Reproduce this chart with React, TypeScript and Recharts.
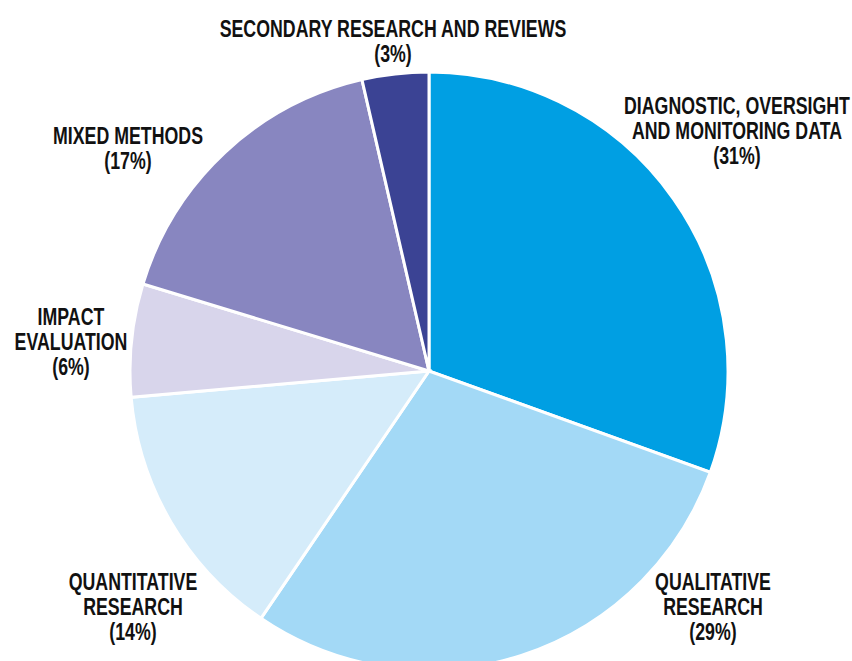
import { PieChart, Pie, Cell } from "recharts";

const categories = [
  "DIAGNOSTIC, OVERSIGHT AND MONITORING DATA",
  "QUALITATIVE RESEARCH",
  "QUANTITATIVE RESEARCH",
  "IMPACT EVALUATION",
  "MIXED METHODS",
  "SECONDARY RESEARCH AND REVIEWS",
];
const shares = [30.5, 29.0, 14.1, 6.1, 16.7, 3.6];
const printedShares = [31, 29, 14, 6, 17, 3];
const colors = ["#009fe3", "#a3d9f6", "#d5ecfa", "#d8d5eb", "#8886c0", "#3b4394"];

// label text lines and where they sit
const labelLines = [
  ["DIAGNOSTIC, OVERSIGHT", "AND MONITORING DATA"],
  ["QUALITATIVE", "RESEARCH"],
  ["QUANTITATIVE", "RESEARCH"],
  ["IMPACT", "EVALUATION"],
  ["MIXED METHODS"],
  ["SECONDARY RESEARCH AND REVIEWS"],
];
const labelPos = [
  { x: 737, y: 114 },
  { x: 713, y: 590 },
  { x: 133, y: 590 },
  { x: 71, y: 325 },
  { x: 128, y: 144 },
  { x: 393, y: 37 },
];

const data = categories.map((name, i) => ({ name, value: shares[i] }));

const FONT = "'Liberation Sans', Arial, sans-serif";
const SQUEEZE = 0.74;

function renderLabel(props: any) {
  const i = props.index;
  const pos = labelPos[i];
  const lines = [...labelLines[i], `(${printedShares[i]}%)`];
  return (
    <g key={i} transform={`translate(${pos.x},0) scale(${SQUEEZE},1) translate(${-pos.x},0)`}>
      <text
        x={pos.x}
        y={pos.y}
        textAnchor="middle"
        fill="#111"
        fontFamily={FONT}
        fontWeight="bold"
        fontSize={24}
      >
        {lines.map((l, k) => (
          <tspan key={k} x={pos.x} dy={k === 0 ? 0 : 25}>
            {l}
          </tspan>
        ))}
      </text>
    </g>
  );
}

export default function App() {
  return (
    <div style={{ position: "absolute", left: 0, top: 0, width: 852, height: 661, background: "#fff" }}>
      <PieChart width={852} height={661} margin={{ top: 0, right: 0, bottom: 0, left: 0 }}>
        <Pie
          data={data}
          dataKey="value"
          nameKey="name"
          cx={429}
          cy={371}
          outerRadius={299}
          startAngle={90}
          endAngle={-270}
          stroke="#fff"
          strokeWidth={3}
          label={renderLabel}
          labelLine={false}
          isAnimationActive={false}
        >
          {data.map((d, i) => (
            <Cell key={d.name} fill={colors[i]} />
          ))}
        </Pie>
      </PieChart>
    </div>
  );
}
